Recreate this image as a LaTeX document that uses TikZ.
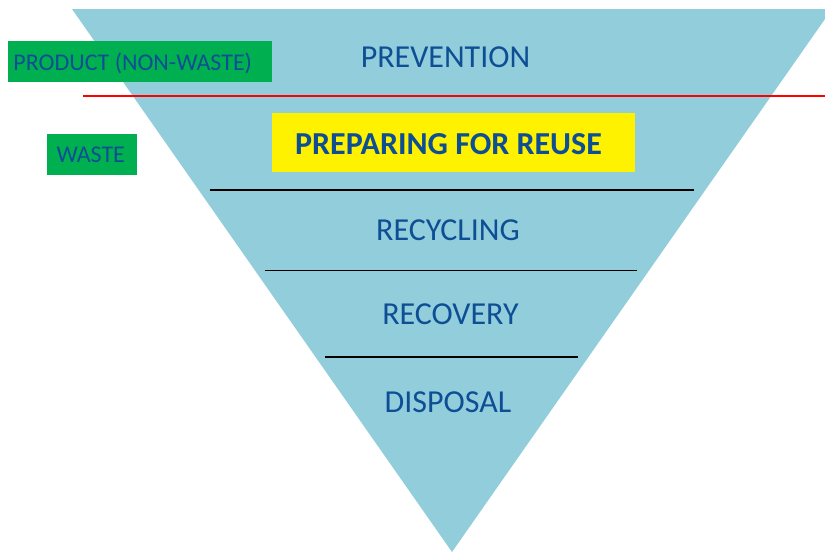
\documentclass[tikz,border=0pt]{standalone}
\usepackage{fontspec}
\setmainfont{Carlito}
\definecolor{pyramidblue}{RGB}{146,205,220}
\definecolor{labelgreen}{RGB}{0,176,80}
\definecolor{textblue}{RGB}{14,78,148}
\tikzset{every picture/.style={line width=0.75pt}}
\tikzset{
	level/.style={text=textblue, inner sep=0pt, anchor=base, font=\fontsize{24}{28}\selectfont},
	sidelabel/.style={text=textblue, inner sep=0pt, anchor=base west, font=\fontsize{18}{22}\selectfont}
}

\begin{document}
\begin{tikzpicture}[x=0.75pt,y=0.75pt,yscale=-1,xscale=1]
	\clip (0,0) rectangle (825,553);

	%Shape: Triangle
	\fill [pyramidblue] (72,9) -- (832,9) -- (452,552) -- cycle ;
	%Straight Lines (red divider)
	\draw [red, line width=1.2pt] (83,96) -- (825,96) ;
	%Straight Lines
	\draw [line width=1.3pt] (210,190) -- (694,190) ;
	%Straight Lines
	\draw [line width=1.3pt] (265,270.5) -- (637,270.5) ;
	%Straight Lines
	\draw [line width=1.3pt] (325,357) -- (578,357) ;
	%Shape: Rectangle
	\fill [labelgreen] (8,41) rectangle (272,82) ;
	%Shape: Rectangle
	\fill [labelgreen] (47,134) rectangle (137,175) ;
	%Shape: Rectangle
	\fill [yellow] (272,113) rectangle (635,172) ;

	% Text Node
	\node [level] (prevention) at (445.5,67) {PREVENTION};
	% Text Node
	\node [level, font=\fontsize{24}{28}\selectfont\bfseries] (reuse) at (448.5,154) {PREPARING FOR REUSE};
	% Text Node
	\node [level] (recycling) at (448,240) {RECYCLING};
	% Text Node
	\node [level] (recovery) at (450.5,324) {RECOVERY};
	% Text Node
	\node [level] (disposal) at (448,412) {DISPOSAL};
	% Text Node
	\node [sidelabel] (product) at (13,70) {PRODUCT (NON-WASTE)};
	% Text Node
	\node [sidelabel] (waste) at (56,162) {WASTE};

\end{tikzpicture}
\end{document}
